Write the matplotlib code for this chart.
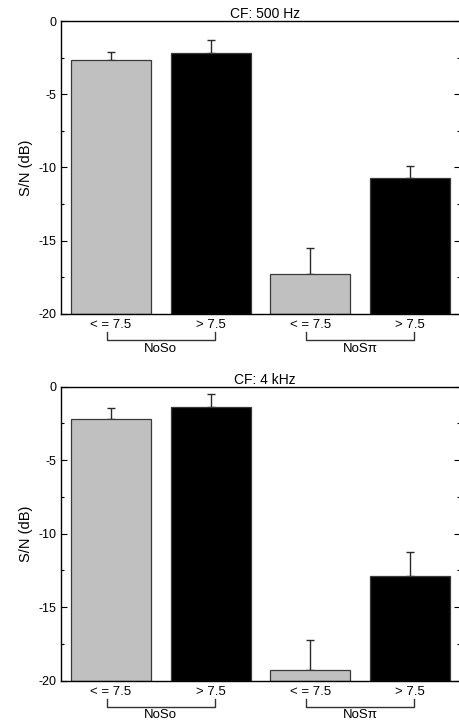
import matplotlib
matplotlib.use("Agg")
import matplotlib.pyplot as plt

plt.rcParams['font.family'] = ['Liberation Sans', 'DejaVu Sans']

bar_labels = ["< = 7.5", "> 7.5", "< = 7.5", "> 7.5"]
group_labels = ["NoSo", "NoSπ"]
titles = ["CF: 500 Hz", "CF: 4 kHz"]
yticks = [0, -5, -10, -15, -20]
ytick_labels = ["0", "-5", "-10", "-15", "-20"]

sn_500 = [-2.66, -2.18, -17.29, -10.76]
err_500 = [0.52, 0.86, 1.77, 0.88]
sn_4k = [-2.18, -1.38, -19.27, -12.88]
err_4k = [0.71, 0.90, 2.02, 1.66]

colors = ["#c0c0c0", "#000000", "#c0c0c0", "#000000"]
base = -20

W, H = 459, 721
fig = plt.figure(figsize=(W / 100, H / 100), dpi=100)

def px_axes(left, right, top, bottom):
    return fig.add_axes([left / W, (H - bottom) / H, (right - left) / W, (bottom - top) / H])

panels = [
    (px_axes(61, 460, 21, 313.7), sn_500, err_500, titles[0], -0.122),
    (px_axes(61, 460, 386.7, 680.7), sn_4k, err_4k, titles[1], -0.116),
]

x = list(range(len(bar_labels)))
for ax, vals, errs, title, gy in panels:
    heights = [v - base for v in vals]
    ax.bar(x, heights, bottom=base, width=0.8, color=colors, edgecolor="#3a3a3a",
           linewidth=0.9, zorder=2)
    ax.errorbar(x, vals, yerr=[[0] * len(errs), errs], fmt="none", ecolor="#2a2a2a",
                elinewidth=1.0, capsize=2.6, capthick=1.0, zorder=1)
    ax.set_xlim(-0.5, 3.5)
    ax.set_ylim(-20, 0)
    ax.set_yticks(yticks)
    ax.set_yticklabels(ytick_labels)
    ax.set_yticks([-2.5, -7.5, -12.5, -17.5], minor=True)
    ax.set_xticks([])
    ax.tick_params(axis="y", which="major", direction="in", length=4.2, width=0.8,
                   labelsize=9, pad=3.5, right=True, left=True)
    ax.tick_params(axis="y", which="minor", direction="in", length=2.2, width=0.8,
                   right=True, left=True)
    for s in ax.spines.values():
        s.set_linewidth(1.0)
    ax.set_ylabel("S/N (dB)", fontsize=10.5, labelpad=4)
    ax.set_title(title, fontsize=10, pad=1.5, x=0.511)

    t = ax.get_xaxis_transform()
    for xi, lab in zip(x, bar_labels):
        ax.text(xi, -0.037, lab, transform=t, ha="center", va="center", fontsize=9.5, clip_on=False)
    for g, (x0, x1) in enumerate([(-0.04, 1.04), (1.96, 3.04)]):
        ax.plot([x0, x0, x1, x1], [-0.061, -0.089, -0.089, -0.061], transform=t,
                color="#333333", linewidth=1.0, clip_on=False)
        ax.text((x0 + x1) / 2, gy, group_labels[g], transform=t, ha="center", va="center",
                fontsize=9.5, clip_on=False)

fig.savefig("out.png", dpi=100)
